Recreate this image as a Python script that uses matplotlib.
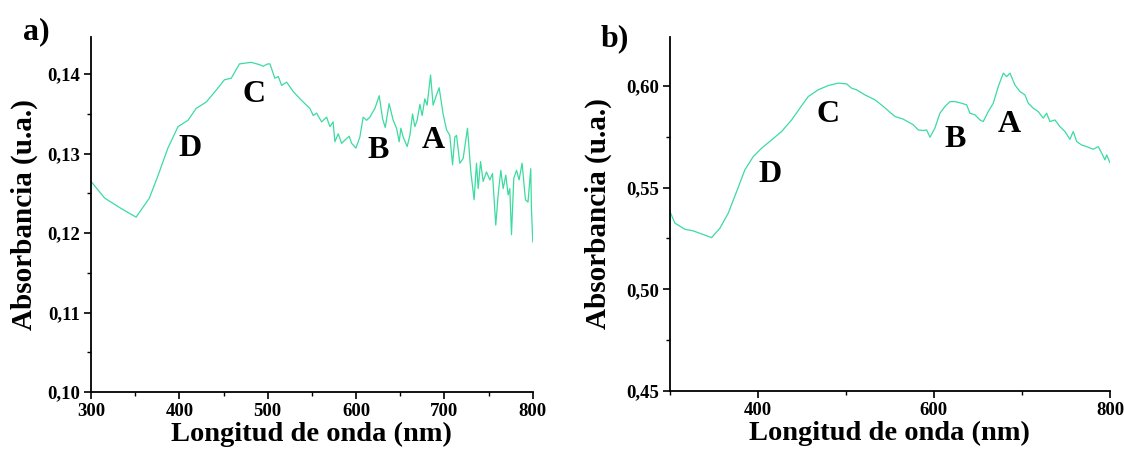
import matplotlib
matplotlib.use("Agg")
import matplotlib.pyplot as plt
from matplotlib.ticker import MultipleLocator, FixedLocator, FuncFormatter

# ---- spectrum a) ----
wl_a = [300, 315.5, 334, 351, 366, 376, 387, 398.4, 409.7, 419, 430.4, 441.7,
        451, 458.7, 468, 481, 491, 494.6, 500, 502.5, 508, 512, 515.7, 521.4,
        529, 538.3, 547.7, 551.5, 555.3, 561, 566.6, 570.4, 574, 576, 579.8,
        583.6, 587.3, 592.2, 595, 599.8, 604.3, 608, 611.9, 615.6, 621.3,
        626.2, 630, 633, 637.4, 642, 645.8, 648.8, 650.7, 653.3, 657.8, 660.9,
        663.9, 666.5, 669.1, 672.2, 674.8, 677.8, 680.4, 684.3, 687.2, 691,
        694, 698.5, 702.4, 706.1, 709.2, 711.8, 713.7, 717.4, 721.2, 726.1,
        729.9, 733.6, 736.3, 738.2, 740.9, 743.8, 747.6, 751.4, 754.4, 758.1,
        760.8, 763.8, 766.5, 769.5, 772.1, 774, 775.9, 778.5, 781.6, 784.5,
        787.9, 791.7, 794.6, 797.7, 798.5, 800]
abs_a = [0.1265, 0.1244, 0.1231, 0.1220, 0.1244, 0.1273, 0.1307, 0.1334,
         0.1342, 0.1357, 0.1365, 0.1380, 0.1393, 0.1395, 0.1413, 0.1415,
         0.1412, 0.1410, 0.1413, 0.1413, 0.1395, 0.1397, 0.1386, 0.1390,
         0.1378, 0.1367, 0.1357, 0.1348, 0.1351, 0.1340, 0.1346, 0.1334,
         0.1340, 0.1315, 0.1325, 0.1313, 0.1317, 0.1322, 0.1313, 0.1307,
         0.1321, 0.1346, 0.1342, 0.1346, 0.1357, 0.1373, 0.1344, 0.1333,
         0.1363, 0.1342, 0.1332, 0.1315, 0.1332, 0.1321, 0.1309, 0.1323,
         0.1350, 0.1334, 0.1342, 0.1362, 0.1348, 0.1369, 0.1361, 0.1399,
         0.1361, 0.1374, 0.1383, 0.1350, 0.1330, 0.1323, 0.1286, 0.1321,
         0.1323, 0.1288, 0.1294, 0.1332, 0.1277, 0.1242, 0.1288, 0.1256,
         0.1290, 0.1265, 0.1277, 0.1267, 0.1275, 0.1210, 0.1248, 0.1279,
         0.1256, 0.1273, 0.1248, 0.1256, 0.1198, 0.1269, 0.1279, 0.1267,
         0.1288, 0.1242, 0.1239, 0.1281, 0.1231, 0.1189]

# ---- spectrum b) ----
wl_b = [300, 305.7, 317, 326.5, 336, 347.4, 356.8, 366.3, 375.8, 385.2, 394.7,
        404.2, 415.6, 426.9, 438.3, 447.7, 457.2, 468.5, 479.9, 491.3, 500.8,
        506.5, 512.2, 521.6, 533, 542, 555.7, 565.1, 576.5, 582.2, 587.8,
        591.7, 595.5, 601.1, 606.8, 612.5, 618.2, 623.9, 631.5, 637.2, 640.9,
        646.6, 652.3, 656, 661.7, 667.4, 673.1, 678.8, 682.6, 686.4, 692,
        697.7, 703.4, 707.2, 712.8, 718.5, 724.2, 728, 731.8, 737.5, 743.2,
        748.9, 754.5, 758.3, 762.2, 767.8, 773.5, 781, 786.7, 790.6, 794.3,
        796.3, 800]
abs_b = [0.5382, 0.5325, 0.5295, 0.5287, 0.5272, 0.5254, 0.5300, 0.5374,
         0.5480, 0.5587, 0.5652, 0.5693, 0.5734, 0.5775, 0.5832, 0.5890,
         0.5947, 0.5980, 0.6001, 0.6013, 0.6009, 0.5988, 0.5980, 0.5955,
         0.5931, 0.5900, 0.5849, 0.5836, 0.5808, 0.5783, 0.5780, 0.5783,
         0.5747, 0.5792, 0.5865, 0.5898, 0.5922, 0.5922, 0.5914, 0.5906,
         0.5865, 0.5857, 0.5832, 0.5824, 0.5873, 0.5914, 0.5996, 0.6062,
         0.6045, 0.6062, 0.6004, 0.5972, 0.5955, 0.5914, 0.5890, 0.5873,
         0.5841, 0.5865, 0.5824, 0.5832, 0.5799, 0.5775, 0.5737, 0.5775,
         0.5726, 0.5709, 0.5701, 0.5688, 0.5701, 0.5669, 0.5636, 0.5660,
         0.5622]

# band labels: (letter, wavelength, absorbance)
bands_a = [("D", 412, 0.1307), ("C", 485, 0.1374), ("B", 625, 0.1304), ("A", 687, 0.1316)]
bands_b = [("D", 414, 0.5562), ("C", 480, 0.5857), ("B", 624, 0.5734), ("A", 686, 0.5808)]

LINE = "#3cdba0"
SERIF = "Liberation Serif"

fig = plt.figure(figsize=(11.24, 4.5), dpi=100)
ax1 = fig.add_axes([0.081, 0.129, 0.393, 0.789])
ax2 = fig.add_axes([0.596, 0.131, 0.3915, 0.787])

comma = FuncFormatter(lambda v, p: f"{v:.2f}".replace(".", ","))


def style(ax):
    for s in ("top", "right"):
        ax.spines[s].set_visible(False)
    for s in ("left", "bottom"):
        ax.spines[s].set_linewidth(1.3)
    ax.tick_params(which="major", direction="out", length=5, width=1.2,
                   labelsize=13.5, pad=3)
    ax.tick_params(which="minor", direction="out", length=3, width=1.0)
    for lab in ax.get_xticklabels() + ax.get_yticklabels():
        lab.set_fontfamily(SERIF)
        lab.set_fontweight("bold")
    ax.set_xlabel("Longitud de onda (nm)", fontsize=20.5, fontweight="bold",
                  family=SERIF)
    ax.set_ylabel("Absorbancia (u.a.)", fontsize=21, fontweight="bold",
                  family=SERIF)


# panel a
ax1.plot(wl_a, abs_a, color=LINE, lw=0.9)
ax1.set_xlim(300, 800)
ax1.set_ylim(0.10, 0.1447)
ax1.xaxis.set_major_locator(MultipleLocator(100))
ax1.xaxis.set_minor_locator(MultipleLocator(50))
ax1.yaxis.set_major_locator(MultipleLocator(0.01))
ax1.yaxis.set_minor_locator(MultipleLocator(0.005))
ax1.yaxis.set_major_formatter(comma)
style(ax1)
ax1.xaxis.set_label_coords(0.5, -0.083)
ax1.yaxis.set_label_coords(-0.12, 0.5)
for letter, x, y in bands_a:
    ax1.text(x, y, letter, fontsize=23, fontweight="bold", family=SERIF,
             ha="center", va="center")

# panel b
ax2.plot(wl_b, abs_b, color=LINE, lw=0.9)
ax2.set_xlim(300, 800)
ax2.set_ylim(0.45, 0.624)
ax2.xaxis.set_major_locator(FixedLocator([400, 600, 800]))
ax2.xaxis.set_minor_locator(FixedLocator([300, 500, 700]))
ax2.yaxis.set_major_locator(MultipleLocator(0.05))
ax2.yaxis.set_minor_locator(MultipleLocator(0.025))
ax2.yaxis.set_major_formatter(comma)
style(ax2)
ax2.xaxis.set_label_coords(0.5, -0.083)
ax2.yaxis.set_label_coords(-0.132, 0.5)
for letter, x, y in bands_b:
    ax2.text(x, y, letter, fontsize=23, fontweight="bold", family=SERIF,
             ha="center", va="center")

fig.text(0.032, 0.93, "a)", fontsize=23, fontweight="bold", family=SERIF,
         ha="center", va="center")
fig.text(0.547, 0.915, "b)", fontsize=23, fontweight="bold", family=SERIF,
         ha="center", va="center")

fig.savefig("out.png", dpi=100)
